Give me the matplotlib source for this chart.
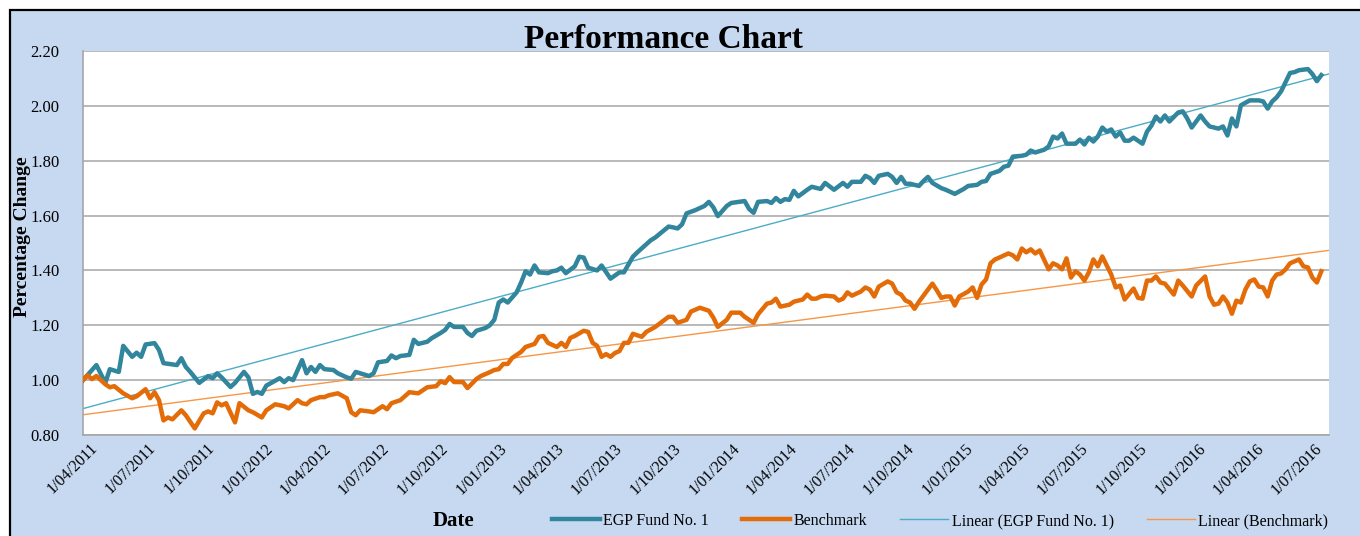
import numpy as np
import pandas as pd
import matplotlib
matplotlib.use("Agg")
import matplotlib.pyplot as plt
import matplotlib.dates as mdates
import matplotlib.transforms as mtransforms
from matplotlib.patches import Rectangle

# weekly closes (Fridays), week number counted from 1/04/2011
start = pd.Timestamp("2011-04-01")

fund_week = [0, 3, 5, 6, 8, 9, 11, 12, 13, 14, 16, 17, 18, 21, 22, 23, 24, 26, 28, 29,
             30, 31, 33, 34, 36, 37, 38, 39, 40, 41, 44, 45, 46, 47, 49, 50, 51, 52, 53, 54,
             56, 57, 59, 60, 61, 62, 64, 65, 66, 68, 69, 70, 71, 73, 74, 75, 77, 78, 80, 81,
             82, 83, 85, 86, 87, 88, 90, 91, 92, 93, 94, 95, 97, 98, 99, 100, 101, 102, 104, 105,
             106, 107, 108, 110, 111, 112, 113, 115, 116, 118, 120, 121, 123, 124, 126, 127, 128, 131, 132, 133,
             134, 135, 137, 139, 140, 141, 142, 144, 145, 148, 149, 150, 151, 153, 154, 155, 156, 157, 158, 159,
             160, 162, 163, 165, 166, 168, 170, 171, 172, 174, 175, 176, 177, 178, 180, 181, 182, 183, 184, 185,
             187, 188, 189, 190, 192, 193, 195, 197, 198, 200, 201, 202, 203, 205, 206, 207, 208, 210, 211, 212,
             213, 215, 216, 217, 218, 219, 220, 222, 223, 224, 225, 226, 227, 228, 229, 230, 231, 232, 233, 234,
             235, 237, 238, 239, 240, 241, 242, 243, 245, 246, 247, 248, 250, 251, 252, 254, 255, 256, 257, 258,
             259, 261, 263, 264, 265, 266, 267, 268, 270, 271, 272, 274, 275, 276, 277]
fund = [1.000, 1.055, 0.990, 1.040, 1.030, 1.125, 1.085, 1.100, 1.085, 1.130, 1.135, 1.110, 1.062, 1.055, 1.080, 1.048, 1.030, 0.990, 1.015, 1.007,
        1.025, 1.010, 0.975, 0.990, 1.030, 1.010, 0.950, 0.957, 0.950, 0.980, 1.007, 0.993, 1.007, 1.000, 1.073, 1.025, 1.048, 1.030, 1.055, 1.040,
        1.037, 1.025, 1.010, 1.005, 1.030, 1.025, 1.015, 1.025, 1.065, 1.070, 1.090, 1.080, 1.088, 1.092, 1.147, 1.132, 1.140, 1.153, 1.172, 1.183,
        1.205, 1.194, 1.194, 1.172, 1.161, 1.180, 1.190, 1.200, 1.220, 1.283, 1.294, 1.283, 1.320, 1.356, 1.397, 1.385, 1.418, 1.393, 1.390, 1.397,
        1.400, 1.410, 1.390, 1.415, 1.450, 1.447, 1.410, 1.400, 1.418, 1.370, 1.393, 1.393, 1.450, 1.466, 1.495, 1.510, 1.520, 1.560, 1.557, 1.553,
        1.568, 1.608, 1.620, 1.635, 1.650, 1.630, 1.598, 1.635, 1.646, 1.653, 1.624, 1.610, 1.650, 1.653, 1.646, 1.664, 1.650, 1.660, 1.657, 1.690,
        1.670, 1.694, 1.705, 1.697, 1.719, 1.694, 1.719, 1.705, 1.723, 1.723, 1.745, 1.737, 1.719, 1.745, 1.752, 1.741, 1.719, 1.741, 1.716, 1.716,
        1.708, 1.726, 1.741, 1.719, 1.700, 1.694, 1.679, 1.697, 1.708, 1.712, 1.723, 1.726, 1.752, 1.763, 1.778, 1.782, 1.815, 1.818, 1.822, 1.837,
        1.830, 1.840, 1.852, 1.888, 1.881, 1.899, 1.862, 1.862, 1.877, 1.859, 1.884, 1.870, 1.888, 1.921, 1.906, 1.914, 1.888, 1.903, 1.873, 1.873,
        1.884, 1.862, 1.906, 1.928, 1.961, 1.943, 1.965, 1.943, 1.976, 1.980, 1.954, 1.921, 1.965, 1.943, 1.925, 1.917, 1.925, 1.892, 1.954, 1.925,
        2.002, 2.020, 2.020, 2.016, 1.990, 2.016, 2.031, 2.053, 2.120, 2.123, 2.130, 2.134, 2.116, 2.090, 2.112]

bench_week = [0, 1, 2, 3, 5, 6, 7, 9, 11, 12, 14, 15, 16, 17, 18, 19, 20, 22, 23, 25,
              27, 28, 29, 30, 31, 32, 34, 35, 37, 38, 40, 41, 43, 45, 46, 48, 49, 50, 51, 53,
              54, 55, 57, 59, 60, 61, 62, 64, 65, 67, 68, 69, 71, 73, 75, 77, 79, 80, 81, 82,
              83, 85, 86, 88, 89, 91, 92, 93, 94, 95, 96, 98, 99, 101, 102, 103, 104, 106, 107, 108,
              109, 110, 112, 113, 114, 115, 116, 117, 118, 119, 120, 121, 122, 123, 125, 126, 128, 131, 132, 133,
              135, 136, 138, 140, 141, 142, 144, 145, 147, 148, 150, 151, 153, 154, 155, 156, 158, 159, 161, 162,
              163, 164, 165, 166, 168, 169, 170, 171, 172, 174, 175, 176, 177, 178, 180, 181, 182, 183, 184, 185,
              186, 187, 189, 190, 191, 192, 193, 194, 195, 196, 198, 199, 200, 201, 202, 203, 204, 205, 207, 208,
              209, 210, 211, 212, 213, 214, 216, 217, 218, 219, 220, 221, 222, 223, 224, 225, 226, 227, 228, 230,
              231, 232, 233, 235, 236, 237, 238, 239, 240, 241, 242, 244, 245, 246, 248, 249, 251, 252, 253, 254,
              255, 256, 257, 258, 259, 260, 261, 262, 263, 264, 265, 266, 267, 268, 269, 270, 272, 273, 274, 275,
              276, 277]
bench = [1.000, 1.018, 1.004, 1.015, 0.985, 0.974, 0.978, 0.952, 0.934, 0.941, 0.967, 0.934, 0.956, 0.927, 0.853, 0.864, 0.857, 0.890, 0.872, 0.824,
         0.879, 0.886, 0.879, 0.919, 0.908, 0.916, 0.846, 0.916, 0.890, 0.883, 0.864, 0.890, 0.912, 0.905, 0.897, 0.927, 0.916, 0.912, 0.927, 0.938,
         0.938, 0.945, 0.952, 0.934, 0.883, 0.872, 0.890, 0.886, 0.883, 0.905, 0.894, 0.916, 0.927, 0.956, 0.952, 0.974, 0.978, 0.996, 0.989, 1.011,
         0.993, 0.993, 0.971, 1.004, 1.015, 1.029, 1.037, 1.040, 1.059, 1.059, 1.081, 1.103, 1.121, 1.132, 1.158, 1.161, 1.136, 1.121, 1.136, 1.121,
         1.154, 1.161, 1.180, 1.176, 1.136, 1.125, 1.085, 1.095, 1.085, 1.099, 1.106, 1.136, 1.136, 1.169, 1.158, 1.176, 1.194, 1.231, 1.231, 1.209,
         1.220, 1.250, 1.264, 1.253, 1.228, 1.194, 1.220, 1.246, 1.246, 1.231, 1.209, 1.240, 1.279, 1.283, 1.297, 1.268, 1.275, 1.286, 1.294, 1.312,
         1.297, 1.297, 1.305, 1.308, 1.305, 1.290, 1.297, 1.320, 1.308, 1.323, 1.338, 1.330, 1.305, 1.341, 1.360, 1.352, 1.320, 1.312, 1.290, 1.283,
         1.260, 1.286, 1.330, 1.352, 1.327, 1.300, 1.305, 1.305, 1.272, 1.305, 1.323, 1.338, 1.300, 1.349, 1.367, 1.426, 1.440, 1.447, 1.462, 1.455,
         1.440, 1.480, 1.466, 1.477, 1.462, 1.473, 1.404, 1.426, 1.418, 1.404, 1.444, 1.374, 1.397, 1.385, 1.363, 1.393, 1.440, 1.415, 1.451, 1.385,
         1.338, 1.345, 1.294, 1.334, 1.300, 1.297, 1.363, 1.363, 1.378, 1.356, 1.352, 1.312, 1.363, 1.345, 1.305, 1.345, 1.378, 1.305, 1.275, 1.279,
         1.305, 1.283, 1.242, 1.290, 1.283, 1.330, 1.360, 1.367, 1.341, 1.338, 1.305, 1.363, 1.385, 1.389, 1.404, 1.426, 1.440, 1.415, 1.411, 1.374,
         1.356, 1.397]

tick_dates = pd.date_range("2011-04-01", "2016-07-01", freq="QS-JAN")
x_end = pd.Timestamp("2016-08-03")

TEAL = "#31859C"
ORANGE = "#E36C09"
TEAL_T = "#4BACC6"
ORANGE_T = "#F79646"
BG = "#C6D9F1"
SERIF = ["Liberation Serif", "DejaVu Serif"]

fund_dates = start + pd.to_timedelta(np.array(fund_week) * 7, unit="D")
bench_dates = start + pd.to_timedelta(np.array(bench_week) * 7, unit="D")

fig = plt.figure(figsize=(13.6, 5.36), dpi=100, facecolor="white")
fig.patches.append(Rectangle((10 / 1360, -0.1), 1.2, 1.1 - 10 / 536, transform=fig.transFigure,
                             facecolor=BG, edgecolor="black", linewidth=1.6, zorder=-10))

ax = fig.add_axes([83 / 1360, 1 - 435 / 536, (1329 - 83) / 1360, (435 - 51) / 536])
ax.set_facecolor("white")

ax.plot(fund_dates, fund, color=TEAL, lw=3.2, solid_joinstyle="round", label="EGP Fund No. 1", zorder=3)
ax.plot(bench_dates, bench, color=ORANGE, lw=3.2, solid_joinstyle="round", label="Benchmark", zorder=3)

# linear trend lines, fitted the way Excel does, stretched over the whole axis
xs = mdates.date2num([start, x_end])
for d, v, c, lab in [(fund_dates, fund, TEAL_T, "Linear (EGP Fund No. 1)"),
                     (bench_dates, bench, ORANGE_T, "Linear (Benchmark)")]:
    k, b = np.polyfit(mdates.date2num(d), v, 1)
    ax.plot(mdates.num2date(xs), k * xs + b, color=c, lw=1.0, label=lab, zorder=2)

ax.set_xlim(start, x_end)
ax.set_ylim(0.8, 2.2)
ax.set_yticks(np.arange(0.8, 2.21, 0.2))
ax.yaxis.set_major_formatter(plt.FuncFormatter(lambda v, p: f"{v:.2f}"))
ax.grid(axis="y", color="#A6A6A6", lw=1.1)
ax.set_axisbelow(True)
for s in ["top", "right"]:
    ax.spines[s].set_visible(False)
for s in ["left", "bottom"]:
    ax.spines[s].set_color("#A6A6A6")
    ax.spines[s].set_linewidth(1.2)

ax.set_xticks(tick_dates)
ax.set_xticklabels([f"{d.day}/{d.month:02d}/{d.year}" for d in tick_dates])
ax.tick_params(axis="both", length=0)
ax.tick_params(axis="y", pad=17)
ax.tick_params(axis="x", pad=8)
shift = mtransforms.ScaledTranslation(0.12, 0, fig.dpi_scale_trans)
for t in ax.get_xticklabels():
    t.set_rotation(45)
    t.set_ha("right")
    t.set_va("center")
    t.set_rotation_mode("anchor")
    t.set_fontfamily(SERIF)
    t.set_fontsize(11.5)
    t.set_transform(t.get_transform() + shift)
for t in ax.get_yticklabels():
    t.set_fontfamily(SERIF)
    t.set_fontsize(12)

fig.text(663 / 1360, 1 - 40 / 536, "Performance Chart", ha="center", va="center",
         fontsize=24, fontweight="bold", family=SERIF)
fig.text(23 / 1360, 1 - 237 / 536, "Percentage Change", rotation=90, ha="center", va="center",
         fontsize=14, fontweight="bold", family=SERIF)
fig.text(453 / 1360, 1 - 521 / 536, "Date", ha="center", va="center",
         fontsize=15, fontweight="bold", family=SERIF)

fig.legend(loc="center", bbox_to_anchor=(940 / 1360, 1 - 521 / 536), ncol=4, frameon=False,
           prop={"family": SERIF, "size": 11.5}, handlelength=3.0, handletextpad=0.2,
           columnspacing=2.1)

fig.savefig("out.png", dpi=100, facecolor="white")
